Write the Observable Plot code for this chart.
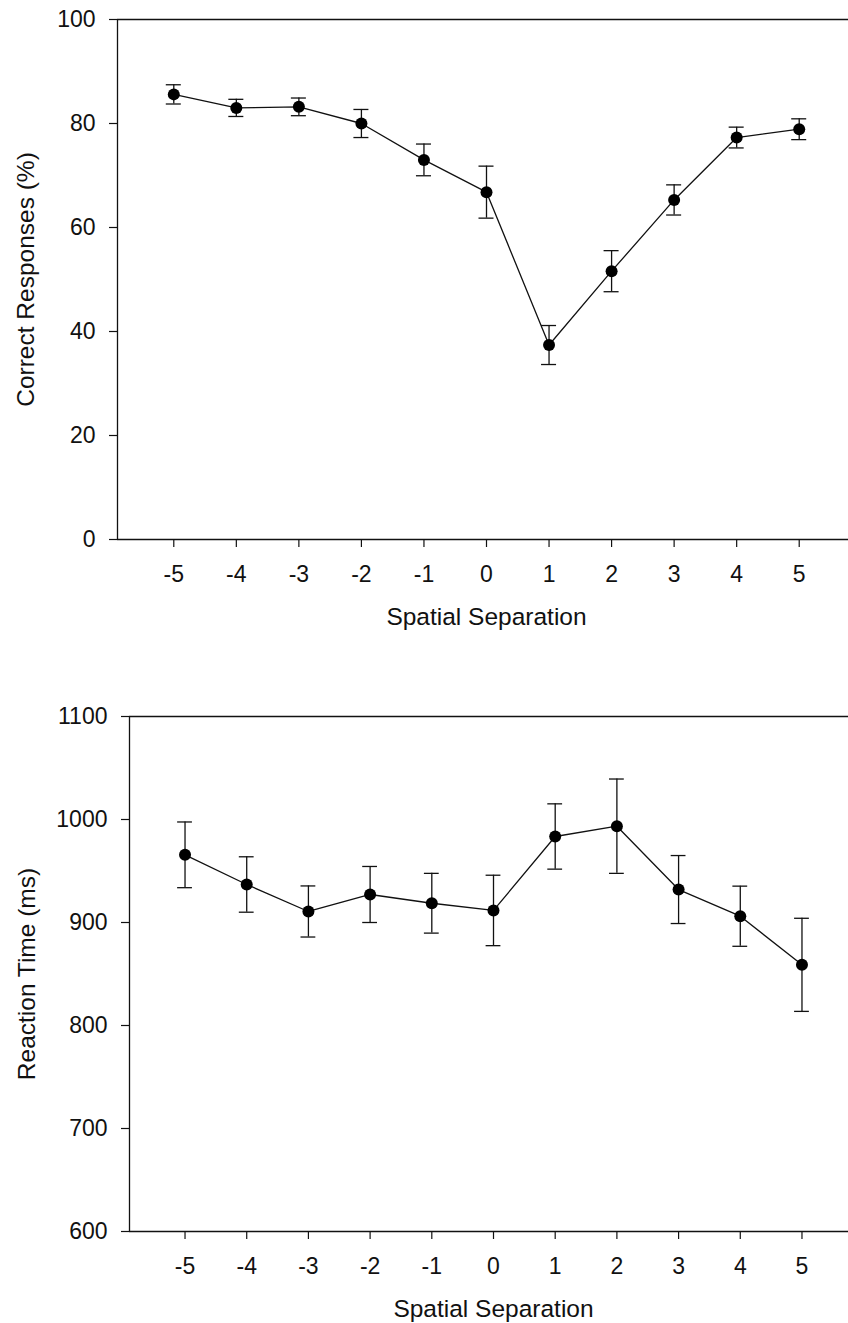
<!DOCTYPE html>
<html>
<head>
<meta charset="utf-8">
<script src="https://cdn.jsdelivr.net/npm/d3@7"></script>
<script src="https://cdn.jsdelivr.net/npm/@observablehq/plot@0.6"></script>
<style>
  html, body { margin: 0; padding: 0; background: white; overflow: hidden; }
  svg { display: block; }
</style>
</head>
<body>
<div id="chart"></div>
<script>
// Data
const separations = [-5, -4, -3, -2, -1, 0, 1, 2, 3, 4, 5];
const correctMean = [85.6, 83.0, 83.2, 80.0, 73.0, 66.8, 37.4, 51.6, 65.3, 77.3, 78.9];
const correctErr  = [1.85, 1.65, 1.7, 2.7, 3.05, 5.0, 3.75, 3.95, 2.9, 2.0, 2.0];
const rtMean = [965.7, 936.9, 910.7, 927.2, 918.7, 911.7, 983.5, 993.5, 932.0, 906.1, 858.9];
const rtErr  = [31.9, 26.9, 24.8, 27.2, 29.0, 34.2, 31.7, 45.8, 33.0, 29.2, 45.2];
const correctTicks = [0, 20, 40, 60, 80, 100];
const rtTicks = [600, 700, 800, 900, 1000, 1100];
const xDomain = [-5.9, 5.9];
const xLabel = "Spatial Separation";
const correctLabel = "Correct Responses (%)";
const rtLabel = "Reaction Time (ms)";

function panel({means, errs, yTicks, yLabel, height, marginTop, marginBottom, marginLeft, xRight, yTitleX}) {
  const data = separations.map((s, i) => ({x: s, y: means[i], lo: means[i] - errs[i], hi: means[i] + errs[i]}));
  const yDomain = [yTicks[0], yTicks[yTicks.length - 1]];
  const capHalf = 0.12;
  return Plot.plot({
    width: 848,
    height,
    marginTop,
    marginBottom,
    marginLeft,
    marginRight: 0,
    style: {fontFamily: "'Liberation Sans', Arial, sans-serif", fontSize: "23px", background: "white", color: "#111"},
    x: {domain: xDomain, range: [marginLeft, xRight]},
    y: {domain: yDomain},
    marks: [
      Plot.ruleY([yDomain[0]], {stroke: "#111", strokeWidth: 1.3}),
      Plot.ruleY([yDomain[1]], {stroke: "#111", strokeWidth: 1.3}),
      Plot.ruleX([xDomain[0]], {stroke: "#111", strokeWidth: 1.3}),
      Plot.axisX({ticks: separations, tickFormat: d => String(d), tickSize: 8, tickPadding: 18, fontSize: 23, stroke: "#111", strokeWidth: 1.2, label: null}),
      Plot.axisY({ticks: yTicks, tickFormat: d => String(d), tickSize: 8, tickPadding: 14, fontSize: 23, stroke: "#111", strokeWidth: 1.2, label: null}),
      Plot.text([xLabel], {text: d => d, x: () => 0, frameAnchor: "bottom", dy: 78, lineAnchor: "middle", textAnchor: "middle", fontSize: 24.5, fill: "#111"}),
      Plot.text([yLabel], {text: d => d, frameAnchor: "left", dx: yTitleX - marginLeft, rotate: -90, textAnchor: "middle", lineAnchor: "middle", fontSize: 24.5, fill: "#111"}),
      Plot.ruleX(data, {x: "x", y1: "lo", y2: "hi", stroke: "#111", strokeWidth: 1.3}),
      Plot.ruleY(data, {y: "hi", x1: d => d.x - capHalf, x2: d => d.x + capHalf, stroke: "#111", strokeWidth: 1.3}),
      Plot.ruleY(data, {y: "lo", x1: d => d.x - capHalf, x2: d => d.x + capHalf, stroke: "#111", strokeWidth: 1.3}),
      Plot.line(data, {x: "x", y: "y", stroke: "#111", strokeWidth: 1.3}),
      Plot.dot(data, {x: "x", y: "y", r: 6, fill: "#000", stroke: "none"})
    ]
  });
}

const chart = document.getElementById("chart");
chart.appendChild(panel({
  means: correctMean, errs: correctErr, yTicks: correctTicks, yLabel: correctLabel,
  height: 660, marginTop: 19, marginBottom: 121, marginLeft: 117, xRight: 855, yTitleX: 26
}));
chart.appendChild(panel({
  means: rtMean, errs: rtErr, yTicks: rtTicks, yLabel: rtLabel,
  height: 663, marginTop: 56, marginBottom: 92, marginLeft: 129, xRight: 857, yTitleX: 27
}));
</script>
</body>
</html>
